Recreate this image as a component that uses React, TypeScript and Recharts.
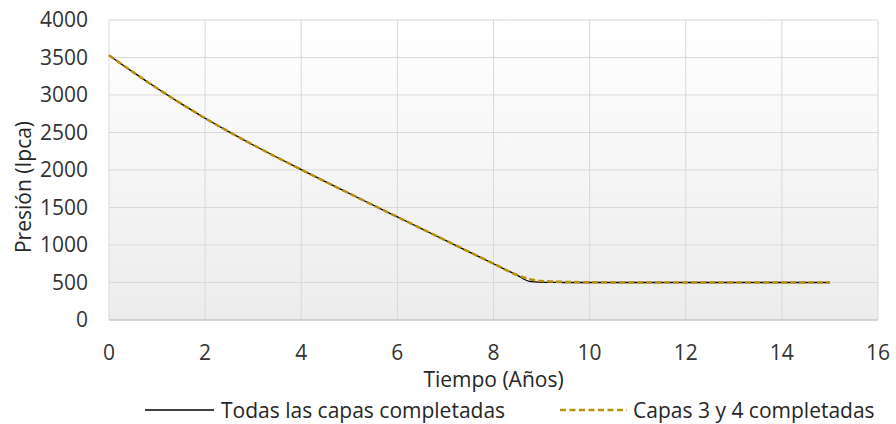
import { LineChart, Line, XAxis, YAxis, CartesianGrid } from 'recharts'

// tiempo en años
const years = [0, 0.5, 1, 1.5, 2, 2.5, 3, 3.5, 4, 4.5, 5, 5.5, 6, 6.5, 7, 7.5, 8, 8.5, 8.75, 9, 9.5, 10, 11, 12, 13, 14, 15]
// presión (lpca) - todas las capas completadas
const todasCapas = [3530, 3305, 3090, 2885, 2690, 2508, 2334, 2167, 2005, 1845, 1687, 1530, 1374, 1218, 1062, 906, 750, 594, 515, 503, 500, 500, 500, 500, 500, 500, 500]
// presión (lpca) - capas 3 y 4 completadas
const capas34 = [3530, 3305, 3090, 2885, 2690, 2508, 2334, 2167, 2005, 1845, 1687, 1530, 1374, 1218, 1062, 906, 752, 598, 545, 520, 508, 503, 501, 500, 500, 500, 500]

const xTicks = [0, 2, 4, 6, 8, 10, 12, 14, 16]
const yTicks = [0, 500, 1000, 1500, 2000, 2500, 3000, 3500, 4000]

const data = years.map((t, i) => ({ t, todas: todasCapas[i], capas: capas34[i] }))

const FONT = '"Open Sans", sans-serif'
const FS = 21
const GOLD = '#B8900A'

function LegendBox() {
  return (
    <div
      style={{
        position: 'absolute',
        left: 145,
        top: 396,
        height: 28,
        display: 'flex',
        alignItems: 'center',
        fontFamily: FONT,
        fontSize: FS,
        color: '#262626',
        whiteSpace: 'nowrap',
      }}
    >
      <svg width={69} height={10} style={{ marginRight: 7 }}>
        <line x1={0} y1={5} x2={69} y2={5} stroke="#000" strokeWidth={1.5} />
      </svg>
      <span style={{ marginRight: 55 }}>Todas las capas completadas</span>
      <svg width={67} height={10} style={{ marginRight: 6 }}>
        <line x1={0} y1={5} x2={67} y2={5} stroke={GOLD} strokeWidth={2.5} strokeDasharray="6 3.5" />
      </svg>
      <span>Capas 3 y 4 completadas</span>
    </div>
  )
}

export default function App() {
  return (
    <div style={{ position: 'relative', width: 896, height: 424, background: '#fff' }}>
      <style>{'body{margin:0}'}</style>
      <LineChart width={896} height={424} data={data} margin={{ top: 20, right: 18, left: 0, bottom: 37 }}>
        <defs>
          <linearGradient id="plotBg" x1="0" y1="0" x2="0" y2="1">
            <stop offset="0%" stopColor="#ffffff" />
            <stop offset="100%" stopColor="#ececec" />
          </linearGradient>
        </defs>
        <CartesianGrid stroke="#d9d9d9" fill="url(#plotBg)" />
        <XAxis
          dataKey="t"
          type="number"
          domain={[0, 16]}
          ticks={xTicks}
          tickLine={false}
          tickSize={0}
          tickMargin={25}
          axisLine={{ stroke: '#bfbfbf' }}
          tick={{ fill: '#333', fontSize: FS, fontFamily: FONT }}
          height={67}
          label={{ value: 'Tiempo (Años)', position: 'insideBottom', offset: 0, fill: '#262626', fontSize: FS, fontFamily: FONT }}
        />
        <YAxis
          type="number"
          domain={[0, 4000]}
          ticks={yTicks}
          tickLine={false}
          tickSize={0}
          tickMargin={21}
          axisLine={false}
          width={109}
          tick={{ fill: '#333', fontSize: FS, fontFamily: FONT }}
          label={{
            content: () => (
              <text
                x={23}
                y={187}
                transform="rotate(-90 23 187)"
                textAnchor="middle"
                dominantBaseline="central"
                fill="#262626"
                fontSize={FS}
                fontFamily={FONT}
              >
                Presión (Ipca)
              </text>
            ),
          }}
        />
        <Line type="monotone" dataKey="todas" stroke="#000" strokeWidth={1.3} dot={false} isAnimationActive={false} />
        <Line type="monotone" dataKey="capas" stroke={GOLD} strokeWidth={2.5} strokeDasharray="6 3" dot={false} isAnimationActive={false} />
      </LineChart>
      <LegendBox />
    </div>
  )
}
